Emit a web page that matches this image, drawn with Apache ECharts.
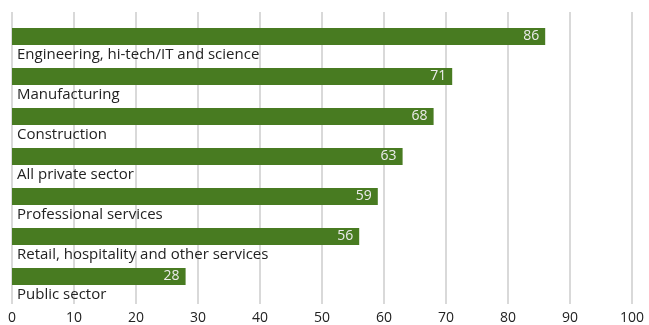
<!DOCTYPE html>
<html>
<head>
<meta charset="utf-8">
<script src="https://cdn.jsdelivr.net/npm/echarts@6/dist/echarts.min.js"></script>
<style>
  html, body { margin: 0; padding: 0; background: #fff; }
  #chart { width: 649px; height: 325px; }
</style>
</head>
<body>
<div id="chart"></div>
<script>
// sectors, top to bottom
let sectors = ['Engineering, hi-tech/IT and science', 'Manufacturing', 'Construction',
    'All private sector', 'Professional services', 'Retail, hospitality and other services', 'Public sector'];
let values = [86, 71, 68, 63, 59, 56, 28];
let x_ticks = [0, 10, 20, 30, 40, 50, 60, 70, 80, 90, 100];

let font = '"Open Sans", sans-serif';
let green = '#487b21';

let chart_option = {
    animation: false,
    grid: [
        // grid 0: bars and labels
        { left: 12, right: 17, top: 25, bottom: 20 },
        // grid 1: just the vertical gridlines and the tick labels
        { left: 12, right: 17, top: 12, bottom: 17 }
    ],
    xAxis: [
        {
            gridIndex: 0,
            type: 'value',
            min: 0,
            max: 100,
            interval: 10,
            show: false
        },
        {
            gridIndex: 1,
            type: 'value',
            min: 0,
            max: 100,
            interval: 10,
            axisLine: { show: false },
            axisTick: { show: false },
            axisLabel: {
                color: '#222',
                fontFamily: font,
                fontSize: 14,
                margin: 7,
                formatter: function (v) { return x_ticks.indexOf(v) >= 0 ? String(v) : ''; }
            },
            splitLine: {
                lineStyle: { color: '#d9d9d9', width: 2 }
            }
        }
    ],
    yAxis: [
        {
            gridIndex: 0,
            type: 'category',
            inverse: true,
            data: sectors,
            axisLine: { show: false },
            axisTick: { show: false },
            splitLine: { show: false },
            axisLabel: {
                inside: true,
                margin: 5,
                verticalAlign: 'top',
                padding: [2, 0, 0, 0],
                color: '#222',
                fontFamily: font,
                fontSize: 15
            },
            z: 5
        },
        {
            gridIndex: 1,
            type: 'category',
            data: [],
            show: false
        }
    ],
    series: [
        {
            name: 'value',
            type: 'bar',
            xAxisIndex: 0,
            yAxisIndex: 0,
            data: values,
            barWidth: 17,
            barGap: '0%',
            itemStyle: { color: green },
            label: {
                show: true,
                position: 'insideRight',
                distance: 6,
                color: '#ececec',
                fontFamily: font,
                fontSize: 14
            }
        },
        {
            // empty slot under each bar, keeps the bar in the upper half of the row
            name: 'spacer',
            type: 'bar',
            xAxisIndex: 0,
            yAxisIndex: 0,
            data: values.map(function () { return 0; }),
            barWidth: 17,
            itemStyle: { color: 'rgba(0,0,0,0)' },
            silent: true
        }
    ]
};

var chart = echarts.init(document.getElementById('chart'));
chart.setOption(chart_option);
</script>
</body>
</html>
